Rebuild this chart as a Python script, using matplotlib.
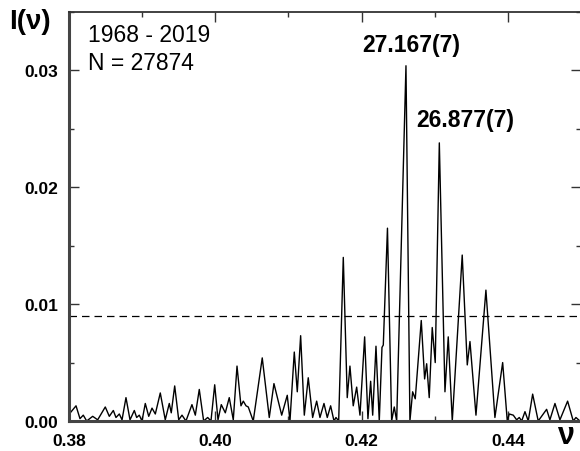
import matplotlib.pyplot as plt
from matplotlib.ticker import MultipleLocator

plt.rcParams['font.family'] = ['Liberation Sans', 'DejaVu Sans']

# Periodogram: frequency (nu) and power I(nu)
nu = [0.38004, 0.38096, 0.38150, 0.38195, 0.38242, 0.38324, 0.38392, 0.38496,
      0.38551, 0.38606, 0.38642, 0.38688, 0.38725, 0.38779, 0.38834, 0.38893,
      0.38925, 0.38961, 0.38998, 0.39043, 0.39090, 0.39135, 0.39180, 0.39248,
      0.39316, 0.39371, 0.39398, 0.39445, 0.39500, 0.39545, 0.39599, 0.39681,
      0.39727, 0.39781, 0.39841, 0.39896, 0.39941, 0.39992, 0.40037, 0.40082,
      0.40137, 0.40191, 0.40246, 0.40297, 0.40351, 0.40383, 0.40420, 0.40451,
      0.40519, 0.40642, 0.40738, 0.40802, 0.40908, 0.40984, 0.41021, 0.41080,
      0.41121, 0.41167, 0.41217, 0.41271, 0.41331, 0.41386, 0.41431, 0.41486,
      0.41531, 0.41577, 0.41623, 0.41650, 0.41687, 0.41750, 0.41804, 0.41841,
      0.41886, 0.41933, 0.41978, 0.42042, 0.42087, 0.42124, 0.42152, 0.42197,
      0.42242, 0.42279, 0.42297, 0.42354, 0.42411, 0.42447, 0.42480, 0.42607,
      0.42661, 0.42698, 0.42734, 0.42816, 0.42862, 0.42890, 0.42925, 0.42966,
      0.43007, 0.43063, 0.43140, 0.43185, 0.43240, 0.43376, 0.43445, 0.43482,
      0.43564, 0.43700, 0.43823, 0.43929, 0.43992, 0.44019, 0.44074, 0.44120,
      0.44156, 0.44189, 0.44234, 0.44279, 0.44339, 0.44415, 0.44530, 0.44575,
      0.44644, 0.44712, 0.44817, 0.44894, 0.44931, 0.44985]
power = [0.0006, 0.0013, 0.0002, 0.0005, 0.0000, 0.0004, 0.0001, 0.0012,
         0.0004, 0.0009, 0.0003, 0.0006, 0.0001, 0.0020, 0.0001, 0.0009,
         0.0003, 0.0005, 0.0000, 0.0015, 0.0004, 0.0011, 0.0006, 0.0024,
         0.0001, 0.0015, 0.0007, 0.0030, 0.0001, 0.0005, 0.0000, 0.0014,
         0.0005, 0.0027, 0.0000, 0.0003, 0.0000, 0.0031, 0.0001, 0.0014,
         0.0007, 0.0020, 0.0001, 0.0047, 0.0013, 0.0017, 0.0013, 0.0012,
         0.0000, 0.0054, 0.0003, 0.0032, 0.0005, 0.0022, 0.0000, 0.0059,
         0.0025, 0.0073, 0.0005, 0.0037, 0.0003, 0.0017, 0.0003, 0.0015,
         0.0003, 0.0013, 0.0000, 0.0003, 0.0000, 0.0140, 0.0020, 0.0047,
         0.0013, 0.0029, 0.0005, 0.0072, 0.0002, 0.0034, 0.0005, 0.0064,
         0.0000, 0.0063, 0.0065, 0.0165, 0.0000, 0.0012, 0.0000, 0.0304,
         0.0000, 0.0025, 0.0019, 0.0086, 0.0036, 0.0049, 0.0020, 0.0080,
         0.0050, 0.0238, 0.0025, 0.0072, 0.0000, 0.0142, 0.0048, 0.0068,
         0.0005, 0.0112, 0.0003, 0.0050, 0.0000, 0.0006, 0.0005, 0.0001,
         0.0003, 0.0000, 0.0008, 0.0000, 0.0023, 0.0000, 0.0010, 0.0001,
         0.0015, 0.0001, 0.0017, 0.0000, 0.0003, 0.0000]

# significance level and labelled peaks
threshold = 0.009
peak_labels = ['27.167(7)', '26.877(7)']

fig = plt.figure(figsize=(5.8, 4.52), dpi=100)
ax = fig.add_axes([69 / 580, 30 / 452, 512 / 580, 409 / 452])

ax.plot(nu, power, color='black', lw=1.0)
ax.axhline(threshold, color='black', lw=0.9, ls=(0, (6, 4)))

ax.set_xlim(0.38, 0.45)
ax.set_ylim(0, 0.035)
ax.xaxis.set_major_locator(MultipleLocator(0.02))
ax.xaxis.set_minor_locator(MultipleLocator(0.01))
ax.yaxis.set_major_locator(MultipleLocator(0.01))
ax.yaxis.set_minor_locator(MultipleLocator(0.005))
ax.xaxis.set_major_formatter(lambda v, p: f'{v:.2f}')
ax.yaxis.set_major_formatter(lambda v, p: f'{v:.2f}')
ax.tick_params(which='both', direction='in', top=True, right=True,
               labelsize=12.5, width=1.0, color='#333333')
ax.tick_params(which='major', length=7)
ax.tick_params(which='minor', length=3.5)
ax.tick_params(axis='x', pad=9)
ax.tick_params(axis='y', pad=8)
for lab in ax.get_xticklabels() + ax.get_yticklabels():
    lab.set_fontweight('bold')

for side in ['left', 'bottom']:
    ax.spines[side].set_linewidth(2.2)
    ax.spines[side].set_color('#444444')
ax.spines['top'].set_linewidth(1.3)
ax.spines['top'].set_color('#333333')

fig.text(88 / 580, 1 - 42 / 452, '1968 - 2019', fontsize=16.5, va='baseline')
fig.text(88 / 580, 1 - 70 / 452, 'N = 27874', fontsize=16.5, va='baseline')

fig.text(362 / 580, 1 - 52 / 452, peak_labels[0],
         fontsize=16.5, fontweight='bold', va='baseline')
fig.text(416 / 580, 1 - 127 / 452, peak_labels[1],
         fontsize=16.5, fontweight='bold', va='baseline')

fig.text(9 / 580, 1 - 9 / 452, 'I(ν)', fontsize=20, fontweight='bold', va='top')
fig.text(557 / 580, 1 / 452, 'ν', fontsize=22, fontweight='bold', va='bottom')

fig.savefig('out.png', dpi=100)
